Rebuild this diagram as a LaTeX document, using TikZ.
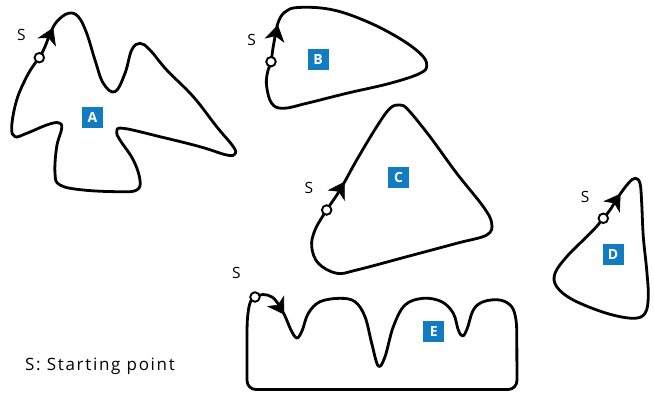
\documentclass[tikz,border=0pt]{standalone}
\usepackage{fontspec}
\setmainfont{Open Sans}
\usetikzlibrary{calc}
\definecolor{tagblue}{RGB}{18,124,194}
\tikzset{
  loop/.style={line width=2.8pt, line cap=round, line join=round},
  startdot/.style={circle, draw, fill=white, line width=1.9pt, inner sep=0pt, minimum size=9.5pt},
  headfill/.style={fill=black, draw=black, line width=0.6pt, line join=miter},
  slabel/.style={inner sep=0pt, font=\fontsize{15.5}{17}\selectfont},
  tag/.style={fill=tagblue, text=white, inner sep=0pt, minimum size=21pt,
              font=\fontsize{14}{14}\selectfont\bfseries}
}
% barbed arrowhead: tip at #1, pointing away from #2
\newcommand{\barbhead}[2]{%
  \path[headfill] (#1) -- ($(#1)!17.5pt!32:(#2)$) -- ($(#1)!10.5pt!(#2)$)
                       -- ($(#1)!17.5pt!-32:(#2)$) -- cycle;}
\begin{document}
\begin{tikzpicture}[x=1pt, y=-1pt]
\useasboundingbox (0,0) rectangle (654,392);

% ---- curve A
\draw[loop] plot[smooth cycle, tension=0.65] coordinates {
  (39.3,57.7) (45,46.7) (50,34) (56.7,21.7) (68.3,13.3) (78.3,16.7) (86.7,33.3)
  (95,60) (103.3,83.3) (115,91.7) (125,73.3) (131.7,50) (140,43.3) (150,50)
  (166.7,70) (193.3,96.7) (216.7,126.7) (233.3,146.7) (235,154) (226.7,155)
  (200,146.7) (160,136.7) (123.3,128.3) (116.7,131.7) (120,140) (133.3,160)
  (140,180) (136.7,190) (120,191.7) (83.3,190) (60,185) (55,173.3) (56.7,146.7)
  (61.7,128.3) (58.3,122.7) (46.7,125) (26.7,133.3) (15,136.7) (11.7,126.7)
  (16.7,100) (26.7,76.7) (35,63.3)};
\coordinate (aT) at (53,28.2);   \coordinate (aB) at (45.5,45);
\barbhead{aT}{aB}
\node[startdot] (a0) at (39.3,57.7) {};
\node[slabel] (aS) at (21.5,35) {S};
\node[tag] (aL) at (92.5,117.5) {A};

% ---- curve B
\draw[loop] plot[smooth cycle, tension=0.65] coordinates {
  (271,61.7) (272.7,50) (275,37) (278.3,22) (285,12) (298,7.5) (330,9.3)
  (363.3,20) (396.7,36.7) (420,53.3) (426.7,65) (420,73.3) (390,83.3)
  (346.7,93.3) (306.7,103.3) (283.3,108.3) (271.7,103.3) (266.7,86.7) (267.3,73.3)};
\coordinate (bT) at (277.8,25.5); \coordinate (bB) at (274,43);
\barbhead{bT}{bB}
\node[startdot] (b0) at (271,61.7) {};
\node[slabel] (bS) at (251.7,39.5) {S};
\node[tag] (bL) at (318,59) {B};

% ---- curve C
\draw[loop] plot[smooth cycle, tension=0.6] coordinates {
  (326.7,210) (340,190) (356.7,160) (376.7,126.7) (390,108.3) (400,105)
  (408.3,110) (430,136.7) (456.7,173.3) (483.3,206.7) (491.7,223.3) (486.7,235)
  (456.7,243.3) (406.7,256.7) (356.7,270) (336.7,273.3) (318.3,263.3)
  (311.7,246.7) (315,230)};
\coordinate (cT) at (344.2,182.3); \coordinate (cB) at (335,197.5);
\barbhead{cT}{cB}
\node[startdot] (c0) at (326.7,210) {};
\node[slabel] (cS) at (309,187.5) {S};
\node[tag] (cL) at (398.7,177.8) {C};

% ---- curve D
\draw[loop] plot[smooth cycle, tension=0.6] coordinates {
  (603.3,218.3) (610,210) (618.3,196.7) (628.3,183.3) (635,178.3) (640,183.3)
  (641.7,203.3) (643.3,236.7) (646.7,270) (648.3,296.7) (645,313.3)
  (633.3,318.3) (606.7,313.3) (573.3,300) (556.7,286.7) (555,273.3)
  (566.7,256.7) (583.3,240) (595,228.3)};
\coordinate (dT) at (620.2,194.2); \coordinate (dB) at (609.5,210);
\barbhead{dT}{dB}
\node[startdot] (d0) at (603.3,218.3) {};
\node[slabel] (dS) at (585,196.5) {S};
\node[tag] (dL) at (613,254.7) {D};

% ---- curve E: wavy top edge, then a rounded box for the sides and base
\draw[loop] plot[smooth, tension=0.6] coordinates {
  (247,335) (247.5,318) (250,303) (255,297) (263,294.5) (272,297) (279,305)
  (285,316) (291,330) (296.7,338) (302,331) (308.3,313.3) (320,301.7)
  (340,298.3) (355,301.7) (365,316.7) (371.7,343.3) (378.3,366) (385,356.7)
  (393.3,326.7) (405,305) (423.3,298.3) (441.7,301.7) (453.3,313.3)
  (458.3,330) (462.7,336) (467.3,328.3) (473.3,310) (483.3,301.7) (500,300)
  (511.7,306.7) (516,320) (516.8,335)};
\draw[loop, rounded corners=9pt] (516.8,335) -- (517,389.5) -- (247,389.5) -- (247,335);
\coordinate (eT) at (283.8,314); \coordinate (eB) at (274,298.5);
\barbhead{eT}{eB}
\node[startdot] (e0) at (255,297) {};
\node[slabel] (eS) at (236.3,272.5) {S};
\node[tag] (eL) at (433.8,331.2) {E};

% ---- key
\node[anchor=base west, inner sep=0pt,
      font=\fontsize{17}{19}\selectfont\addfontfeatures{LetterSpace=10}] (key)
      at (25,370.7) {S: Starting point};
\end{tikzpicture}
\end{document}
